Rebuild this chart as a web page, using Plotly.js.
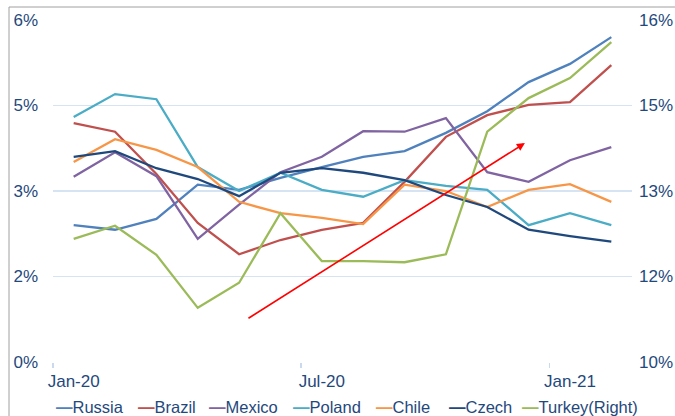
<!DOCTYPE html>
<html>
<head>
<meta charset="utf-8">
<script src="https://cdn.plot.ly/plotly-3.0.1.min.js"></script>
<style>html,body{margin:0;padding:0;background:#fff;}#chart{width:675px;height:416px;}</style>
</head>
<body>
<div id="chart"></div>
<script>
const months = ['Jan-20','Feb-20','Mar-20','Apr-20','May-20','Jun-20','Jul-20','Aug-20','Sep-20','Oct-20','Nov-20','Dec-20','Jan-21','Feb-21'];
const russia = [2.40,2.32,2.51,3.11,3.02,3.23,3.42,3.60,3.70,4.02,4.40,4.91,5.23,5.70];
const brazil = [4.19,4.04,3.30,2.44,1.89,2.14,2.32,2.44,3.16,3.95,4.33,4.51,4.56,5.21];
const mexico = [3.25,3.68,3.26,2.16,2.76,3.33,3.60,4.05,4.04,4.28,3.33,3.16,3.54,3.77];
const poland = [4.30,4.70,4.61,3.42,3.00,3.32,3.02,2.90,3.19,3.09,3.02,2.40,2.61,2.40];
const chile  = [3.51,3.91,3.72,3.42,2.81,2.61,2.53,2.42,3.11,3.00,2.72,3.02,3.12,2.81];
const czech  = [3.60,3.70,3.40,3.21,2.91,3.32,3.40,3.32,3.19,2.93,2.72,2.32,2.21,2.11];
const turkeyRight = [12.16,12.39,11.88,10.95,11.39,12.61,11.77,11.77,11.75,11.89,14.04,14.63,14.98,15.61];

const leftTickVals = [0,1.5,3,4.5,6];
const leftTickText = ['0%','2%','3%','5%','6%'];
const rightTickVals = [10,11.5,13,14.5,16];
const rightTickText = ['10%','12%','13%','15%','16%'];

const seriesNames = ['Russia','Brazil','Mexico','Poland','Chile','Czech','Turkey(Right)'];
const seriesData = [russia,brazil,mexico,poland,chile,czech,turkeyRight];
const colors = ['#4F81BD','#C0504D','#8064A2','#4BACC6','#F79646','#1F497D','#9BBB59'];

const textColor = '#1F497D';
const gridColor = '#D6E3F3';
const fontFam = 'Arial, "Liberation Sans", sans-serif';

const traces = seriesData.map((d,i)=>({
  x: months, y: d, type:'scatter', mode:'lines', name: seriesNames[i],
  yaxis: i===6 ? 'y2' : 'y',
  line:{color:colors[i], width:2.3},
  hoverinfo:'skip', showlegend:false
}));

const legendX = [55,137,208,292,375,448,521];
const annotations = seriesNames.map((n,i)=>({
  xref:'paper', yref:'paper', x:(legendX[i]-53)/579, y:-0.132,
  xanchor:'left', yanchor:'middle', showarrow:false,
  text:'<span style="color:'+colors[i]+'"><b>\u2014</b></span>'+n,
  font:{family:fontFam, size:16.5, color:textColor}, borderpad:0
}));
annotations.push({
  x:10.91, y:3.84, ax:4.19, ay:0.75, xref:'x', yref:'y', axref:'x', ayref:'y',
  showarrow:true, arrowhead:2, arrowsize:1, arrowwidth:1.6, arrowcolor:'#FF0000', text:''
});

const layout = {
  width:675, height:416,
  margin:{l:53, r:43, t:20, b:54},
  paper_bgcolor:'#fff', plot_bgcolor:'#fff',
  font:{family:fontFam, size:17, color:textColor},
  showlegend:false,
  xaxis:{
    type:'category', range:[-0.5,13.5], tickmode:'linear', tick0:0, dtick:6,
    tickson:'boundaries', ticks:'outside', ticklen:5, tickwidth:1.5, tickcolor:'#C9D9EE', tickangle:0,
    ticklabelstandoff:7,
    showgrid:false, zeroline:false, showline:false,
    tickfont:{size:17, color:textColor}
  },
  yaxis:{
    range:[0,6], tickmode:'array', tickvals:leftTickVals, ticktext:leftTickText,
    showgrid:true, gridcolor:gridColor, gridwidth:1.5, zeroline:false, showline:false,
    ticks:'', ticklabelstandoff:14, tickfont:{size:17, color:textColor}
  },
  yaxis2:{
    range:[10,16], overlaying:'y', side:'right', tickmode:'array',
    tickvals:rightTickVals, ticktext:rightTickText,
    showgrid:false, zeroline:false, showline:false, ticks:'', ticklabelstandoff:6,
    tickfont:{size:17, color:textColor}
  },
  annotations: annotations,
  shapes:[{
    type:'rect', xref:'paper', yref:'paper',
    x0:(9-53)/579, x1:(690-53)/579, y0:(362-430)/342, y1:(362-7)/342,
    line:{color:'#A0A0A0', width:1}, layer:'below'
  }]
};

Plotly.newPlot('chart', traces, layout, {staticPlot:true, displayModeBar:false});
</script>
</body>
</html>
